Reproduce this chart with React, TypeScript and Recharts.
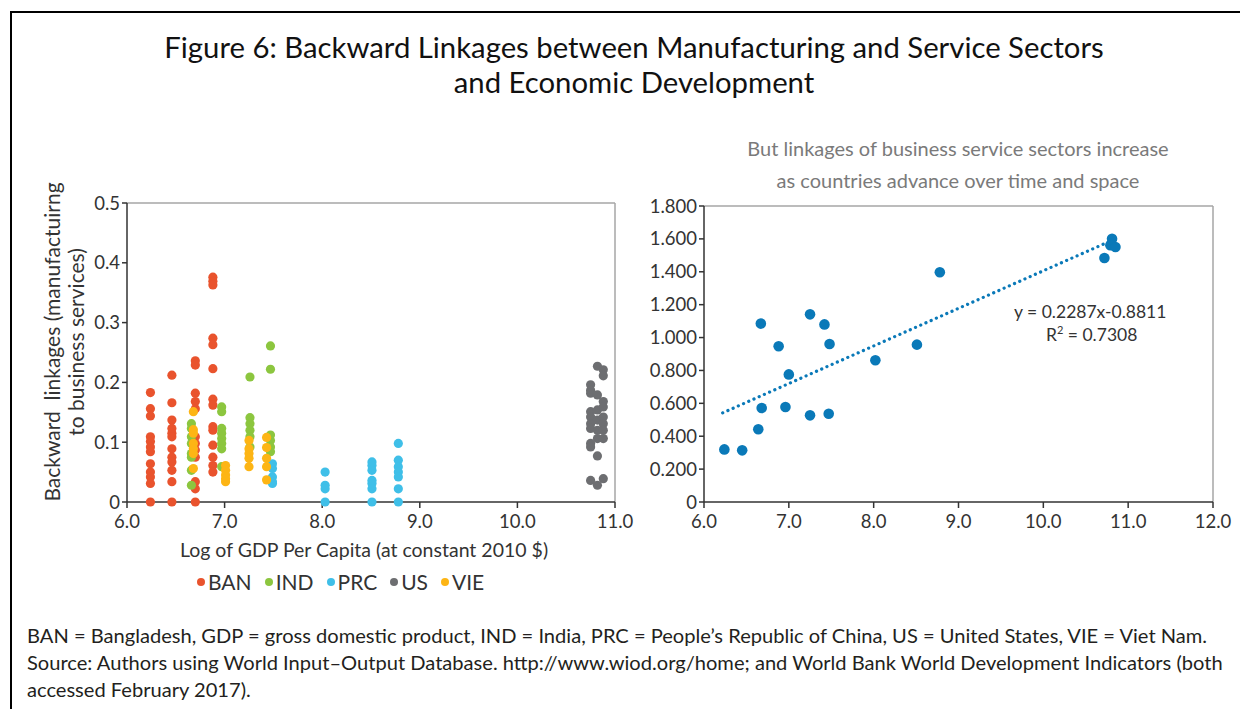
import {
  ScatterChart,
  Scatter,
  XAxis,
  YAxis,
  ReferenceLine,
} from "recharts";

// left panel: backward linkages by country, one column of values per year group
const banColumns = [
  { x: 6.24, ys: [0.183, 0.156, 0.144, 0.109, 0.101, 0.092, 0.084, 0.064, 0.05, 0.042, 0.031, 0] },
  { x: 6.46, ys: [0.212, 0.166, 0.137, 0.123, 0.115, 0.109, 0.089, 0.075, 0.067, 0.053, 0.034, 0] },
  { x: 6.7, ys: [0.236, 0.229, 0.182, 0.168, 0.156, 0.109, 0.098, 0.087, 0.075, 0.034, 0.022, 0] },
  { x: 6.88, ys: [0.376, 0.369, 0.363, 0.274, 0.263, 0.223, 0.172, 0.162, 0.126, 0.12, 0.095, 0.075, 0.061, 0.05] },
];

const indColumns = [
  { x: 6.66, ys: [0.131, 0.123, 0.109, 0.098, 0.081, 0.075, 0.053, 0.028] },
  { x: 6.97, ys: [0.159, 0.151, 0.123, 0.115, 0.106, 0.098, 0.089, 0.059] },
  { x: 7.26, ys: [0.209, 0.141, 0.131, 0.12, 0.109, 0.092] },
  { x: 7.47, ys: [0.261, 0.222, 0.112, 0.103, 0.092, 0.084] },
];

const prcColumns = [
  { x: 7.49, ys: [0.064, 0.056, 0.042, 0.034, 0.031] },
  { x: 8.03, ys: [0.05, 0.028, 0.022, 0] },
  { x: 8.51, ys: [0.067, 0.061, 0.053, 0.036, 0.031, 0.022, 0] },
  { x: 8.78, ys: [0.098, 0.07, 0.059, 0.05, 0.042, 0.022, 0] },
];

const usColumns = [
  { x: 10.75, ys: [0.196, 0.187, 0.182, 0.151, 0.142, 0.131, 0.123, 0.098, 0.092, 0.036] },
  { x: 10.82, ys: [0.227, 0.179, 0.154, 0.137, 0.12, 0.106, 0.077, 0.028] },
  { x: 10.88, ys: [0.221, 0.211, 0.168, 0.159, 0.142, 0.131, 0.12, 0.106, 0.039] },
];

const vieColumns = [
  { x: 6.68, ys: [0.151, 0.121, 0.115, 0.098, 0.089, 0.081, 0.056] },
  { x: 7.01, ys: [0.061, 0.053, 0.045, 0.039, 0.034] },
  { x: 7.25, ys: [0.103, 0.089, 0.081, 0.073, 0.059] },
  { x: 7.43, ys: [0.108, 0.091, 0.073, 0.059, 0.037] },
];

const leftXTicks = [6, 7, 8, 9, 10, 11];
const leftYTicks = [0, 0.1, 0.2, 0.3, 0.4, 0.5];

// right panel: business service linkages
const servicePoints = [
  { x: 6.24, y: 0.32 },
  { x: 6.45, y: 0.314 },
  { x: 6.64, y: 0.442 },
  { x: 6.67, y: 1.085 },
  { x: 6.68, y: 0.572 },
  { x: 6.88, y: 0.947 },
  { x: 6.96, y: 0.578 },
  { x: 7.0, y: 0.776 },
  { x: 7.25, y: 1.141 },
  { x: 7.25, y: 0.527 },
  { x: 7.42, y: 1.08 },
  { x: 7.47, y: 0.537 },
  { x: 7.48, y: 0.961 },
  { x: 8.02, y: 0.862 },
  { x: 8.51, y: 0.957 },
  { x: 8.78, y: 1.397 },
  { x: 10.72, y: 1.484 },
  { x: 10.81, y: 1.601 },
  { x: 10.79, y: 1.561 },
  { x: 10.85, y: 1.551 },
];

const trendPoints = [
  { x: 6.22, y: 0.542 },
  { x: 10.8, y: 1.589 },
];

const rightXTicks = [6, 7, 8, 9, 10, 11, 12];
const rightYTicks = [0, 0.2, 0.4, 0.6, 0.8, 1.0, 1.2, 1.4, 1.6, 1.8];

const series = [
  { name: "BAN", color: "#e9532d", columns: banColumns },
  { name: "IND", color: "#8cc63f", columns: indColumns },
  { name: "PRC", color: "#3fbfe8", columns: prcColumns },
  { name: "US", color: "#6d6e71", columns: usColumns },
  { name: "VIE", color: "#fdb515", columns: vieColumns },
];

const flatten = (cols: { x: number; ys: number[] }[]) =>
  cols.flatMap((c) => c.ys.map((y) => ({ x: c.x, y })));

const tickStyle = { fontSize: 18.5, fill: "#333", fontFamily: "Lato" };
const xTickStyle = { ...tickStyle, dy: 5 };
const axisColor = "#333";
const blue = "#0a79b8";

const dot = (r: number, color: string) => (props: any) =>
  <circle cx={props.cx} cy={props.cy} r={r} fill={color} />;

const App = () => {
  return (
    <div
      style={{
        position: "relative",
        width: 1240,
        height: 701,
        fontFamily: "Lato, sans-serif",
        color: "#231f20",
      }}
    >
      <div
        style={{
          position: "absolute",
          left: 2,
          top: 3,
          right: -8,
          bottom: -8,
          borderTop: "2px solid #000",
          borderLeft: "2px solid #000",
        }}
      />

      <div
        style={{
          position: "absolute",
          left: 6,
          width: 1240,
          top: 21,
          textAlign: "center",
          fontSize: 29.3,
          lineHeight: "35px",
          color: "#111",
        }}
      >
        Figure 6: Backward Linkages between Manufacturing and Service Sectors
        <br />
        and Economic Development
      </div>

      <div
        style={{
          position: "absolute",
          left: 650,
          width: 600,
          top: 124,
          textAlign: "center",
          fontSize: 20,
          lineHeight: "32px",
          color: "#7a7a7a",
        }}
      >
        But linkages of business service sectors increase
        <br />
        as countries advance over time and space
      </div>

      {/* left panel */}
      <div style={{ position: "absolute", left: 0, top: 182 }}>
        <ScatterChart
          width={640}
          height={346}
          margin={{ top: 13, right: 33, bottom: 0, left: 0 }}
        >
          <XAxis
            type="number"
            dataKey="x"
            domain={[6, 11]}
            ticks={leftXTicks}
            tickFormatter={(v) => v.toFixed(1)}
            tick={xTickStyle}
            stroke={axisColor}
            strokeWidth={1.5}
            tickSize={6}
            height={34}
          />
          <YAxis
            type="number"
            dataKey="y"
            domain={[0, 0.5]}
            ticks={leftYTicks}
            tickFormatter={(v) => (v === 0 ? "0" : v.toFixed(1))}
            tick={tickStyle}
            stroke={axisColor}
            strokeWidth={1.5}
            tickSize={5}
            width={119}
          />
          <ReferenceLine y={0.5} stroke="#a6a6a6" strokeWidth={1.5} />
          <ReferenceLine x={11} stroke="#a6a6a6" strokeWidth={1.5} />
          {series.map((s) => (
            <Scatter
              key={s.name}
              name={s.name}
              data={flatten(s.columns)}
              fill={s.color}
              shape={dot(4.6, s.color)}
              isAnimationActive={false}
            />
          ))}
        </ScatterChart>
      </div>

      <div
        style={{
          position: "absolute",
          left: 56,
          top: 334,
          transform: "translate(-50%, -50%) rotate(-90deg)",
          whiteSpace: "nowrap",
          textAlign: "center",
          fontSize: 21,
          lineHeight: "24px",
          color: "#333",
        }}
      >
        Backward&nbsp; linkages (manufactuirng
        <br />
        to business services)
      </div>

      <div
        style={{
          position: "absolute",
          left: 56,
          width: 600,
          top: 530,
          textAlign: "center",
          fontSize: 19.5,
          lineHeight: "24px",
          color: "#333",
        }}
      >
        Log of GDP Per Capita (at constant 2010 $)
      </div>

      <div
        style={{
          position: "absolute",
          left: 189,
          top: 561,
          display: "flex",
          fontSize: 21,
          lineHeight: "26px",
          color: "#333",
        }}
      >
        {series.map((s) => (
          <div
            key={s.name}
            style={{ display: "flex", alignItems: "center", marginRight: 13 }}
          >
            <span
              style={{
                width: 8,
                height: 8,
                borderRadius: 4,
                background: s.color,
                marginRight: 3,
              }}
            />
            {s.name}
          </div>
        ))}
      </div>

      {/* right panel */}
      <div style={{ position: "absolute", left: 620, top: 182 }}>
        <ScatterChart
          width={620}
          height={346}
          margin={{ top: 16, right: 35, bottom: 0, left: 0 }}
        >
          <XAxis
            type="number"
            dataKey="x"
            domain={[6, 12]}
            ticks={rightXTicks}
            tickFormatter={(v) => v.toFixed(1)}
            tick={xTickStyle}
            stroke={axisColor}
            strokeWidth={1.5}
            tickSize={6}
            height={34}
          />
          <YAxis
            type="number"
            dataKey="y"
            domain={[0, 1.8]}
            ticks={rightYTicks}
            tickFormatter={(v) => (v === 0 ? "0" : v.toFixed(3))}
            tick={tickStyle}
            stroke={axisColor}
            strokeWidth={1.5}
            tickSize={5}
            width={76}
          />
          <ReferenceLine y={1.8} stroke="#a6a6a6" strokeWidth={1.5} />
          <ReferenceLine x={12} stroke="#a6a6a6" strokeWidth={1.5} />
          <Scatter
            data={trendPoints}
            line={{
              stroke: blue,
              strokeWidth: 3.2,
              strokeDasharray: "0.1 5.6",
              strokeLinecap: "round",
            }}
            shape={() => <g />}
            isAnimationActive={false}
          />
          <Scatter
            data={servicePoints}
            fill={blue}
            shape={dot(5.3, blue)}
            isAnimationActive={false}
          />
        </ScatterChart>
      </div>

      <div
        style={{
          position: "absolute",
          left: 1006,
          top: 292,
          fontSize: 17.5,
          lineHeight: "23px",
          color: "#333",
          whiteSpace: "nowrap",
        }}
      >
        <div>y = 0.2287x-0.8811</div>
        <div style={{ paddingLeft: 32 }}>
          R<sup style={{ fontSize: 11, lineHeight: 0 }}>2</sup> = 0.7308
        </div>
      </div>

      <div
        style={{
          position: "absolute",
          left: 19,
          top: 614,
          fontSize: 20.1,
          lineHeight: "27px",
          color: "#231f20",
          whiteSpace: "nowrap",
        }}
      >
        BAN = Bangladesh, GDP = gross domestic product, IND = India, PRC = People’s
        Republic of China, US = United States, VIE = Viet Nam.
        <br />
        Source: Authors using World Input–Output Database. http://www.wiod.org/home;
        and World Bank World Development Indicators (both
        <br />
        accessed February 2017).
      </div>
    </div>
  );
};

export default App;
